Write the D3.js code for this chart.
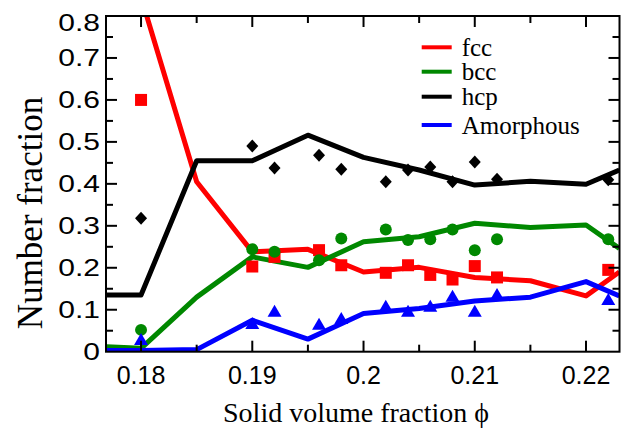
<!DOCTYPE html>
<html><head><meta charset="utf-8">
<script src="https://cdn.jsdelivr.net/npm/d3@7"></script>
<style>body{margin:0;background:#fff}svg{display:block}</style>
</head><body>
<script>
// ---- data ----
const phiLine   = [0.1769, 0.18, 0.185, 0.19, 0.195, 0.2, 0.205, 0.21, 0.215, 0.22, 0.223];
const fccLine   = [0.845, 0.845, 0.405, 0.238, 0.244, 0.19, 0.201, 0.177, 0.169, 0.133, 0.19];
const bccLine   = [0.012, 0.008, 0.13, 0.226, 0.201, 0.262, 0.274, 0.306, 0.296, 0.302, 0.246];
const hcpLine   = [0.135, 0.135, 0.455, 0.455, 0.516, 0.463, 0.433, 0.397, 0.406, 0.399, 0.433];
const amoLine   = [0.003, 0.003, 0.005, 0.075, 0.03, 0.091, 0.103, 0.121, 0.13, 0.167, 0.133];

const phiPts = [0.18, 0.19, 0.192, 0.196, 0.198, 0.202, 0.204, 0.206, 0.208, 0.21, 0.212, 0.222];
const fccPts = [0.60, 0.203, 0.226, 0.242, 0.206, 0.188, 0.206, 0.183, 0.172, 0.204, 0.177, 0.195];
const bccPts = [0.052, 0.244, 0.238, 0.218, 0.27, 0.291, 0.266, 0.268, 0.291, 0.242, 0.268, 0.268];
const hcpPts = [0.318, 0.49, 0.438, 0.468, 0.435, 0.405, 0.433, 0.44, 0.405, 0.452, 0.411, 0.41];
const amoPts = [0.028, 0.066, 0.095, 0.064, 0.078, 0.107, 0.095, 0.107, 0.131, 0.095, 0.135, 0.123];

const seriesNames = ["fcc", "bcc", "hcp", "Amorphous"];
const seriesColors = ["#ff0000", "#008800", "#000000", "#0000ff"];
const xTicks = [0.18, 0.19, 0.2, 0.21, 0.22];
const xMinor = [0.185, 0.195, 0.205, 0.215];
const yTicks = [0, 0.1, 0.2, 0.3, 0.4, 0.5, 0.6, 0.7, 0.8];
const yMinor = [0.05, 0.15, 0.25, 0.35, 0.45, 0.55, 0.65, 0.75];
const xLabel = "Solid volume fraction \u03d5";
const yLabel = "Number fraction";

// ---- layout ----
const W = 640, H = 428;
const L = 106, T = 16, R = 619.5, B = 351.7;
const x = d3.scaleLinear().domain([0.17685, 0.22301]).range([L, R]);
const y = d3.scaleLinear().domain([0, 0.8]).range([B, T]);

const svg = d3.select("body").append("svg").attr("width", W).attr("height", H);
svg.append("defs").append("clipPath").attr("id", "clip")
  .append("rect").attr("x", L).attr("y", T).attr("width", R - L).attr("height", B - T);

const plot = svg.append("g").attr("clip-path", "url(#clip)");
const lineGen = d3.line().x(d => x(d[0])).y(d => y(d[1]));
const lines = [fccLine, bccLine, hcpLine, amoLine];
const pts = [fccPts, bccPts, hcpPts, amoPts];

function drawMarkers(i) {
  const data = phiPts.map((p, k) => [p, pts[i][k]]);
  const g = plot.append("g").attr("fill", seriesColors[i]);
  if (i === 0) {
    g.selectAll("rect").data(data).join("rect")
      .attr("x", d => x(d[0]) - 6).attr("y", d => y(d[1]) - 6).attr("width", 12).attr("height", 12);
  } else if (i === 1) {
    g.selectAll("circle").data(data).join("circle")
      .attr("cx", d => x(d[0])).attr("cy", d => y(d[1])).attr("r", 6);
  } else if (i === 2) {
    g.selectAll("path").data(data).join("path")
      .attr("d", d => { const cx = x(d[0]), cy = y(d[1]);
        return `M${cx},${cy-6.5}L${cx+6},${cy}L${cx},${cy+6.5}L${cx-6},${cy}Z`; });
  } else {
    g.selectAll("path").data(data).join("path")
      .attr("d", d => { const cx = x(d[0]), cy = y(d[1]);
        return `M${cx},${cy-7}L${cx+7},${cy+5}L${cx-7},${cy+5}Z`; });
  }
}

lines.forEach((ln, i) => {
  plot.append("path").datum(phiLine.map((p, k) => [p, ln[k]]))
    .attr("d", lineGen).attr("fill", "none").attr("stroke", seriesColors[i])
    .attr("stroke-width", 5).attr("stroke-linejoin", "round");
});
[0, 1, 2, 3].forEach(drawMarkers);

// ---- axes (ticks inward on all sides) ----
const axG = svg.append("g").attr("stroke", "#000").attr("stroke-width", 2);
const major = 11, minor = 7;
function ticksX(vals, len) {
  vals.forEach(v => {
    axG.append("line").attr("x1", x(v)).attr("x2", x(v)).attr("y1", B).attr("y2", B - len);
    axG.append("line").attr("x1", x(v)).attr("x2", x(v)).attr("y1", T).attr("y2", T + len);
  });
}
function ticksY(vals, len) {
  vals.forEach(v => {
    axG.append("line").attr("y1", y(v)).attr("y2", y(v)).attr("x1", L).attr("x2", L + len);
    axG.append("line").attr("y1", y(v)).attr("y2", y(v)).attr("x1", R).attr("x2", R - len);
  });
}
ticksX(xTicks, major); ticksX(xMinor, minor);
ticksY(yTicks.slice(1, -1), major); ticksY(yMinor, minor);
axG.append("rect").attr("x", L).attr("y", T).attr("width", R - L).attr("height", B - T).attr("fill", "none");

// tick labels
const fmt = d3.format("");
svg.append("g").selectAll("text").data(xTicks).join("text")
  .attr("x", d => x(d)).attr("y", 384).attr("text-anchor", "middle")
  .attr("font-family", "Liberation Sans, Arial, sans-serif").attr("font-size", 25)
  .text(d => fmt(d));
svg.append("g").selectAll("text").data(yTicks).join("text")
  .attr("transform", d => `translate(100,${Math.max(y(d), 22) + 8.5}) scale(1.25,1)`)
  .attr("text-anchor", "end")
  .attr("font-family", "Liberation Sans, Arial, sans-serif").attr("font-size", 24)
  .text(d => fmt(d));

// axis labels
svg.append("text").attr("x", 356).attr("y", 422).attr("text-anchor", "middle")
  .attr("font-family", "Liberation Serif, Times New Roman, serif").attr("font-size", 28)
  .text(xLabel);
svg.append("text").attr("transform", "translate(42,213) rotate(-90)").attr("text-anchor", "middle")
  .attr("font-family", "Liberation Serif, Times New Roman, serif").attr("font-size", 35)
  .text(yLabel);

// legend
const legY = [47.3, 71.7, 96.7, 125];
const leg = svg.append("g");
seriesNames.forEach((n, i) => {
  leg.append("line").attr("x1", 421.7).attr("x2", 451.7).attr("y1", legY[i]).attr("y2", legY[i])
    .attr("stroke", seriesColors[i]).attr("stroke-width", 4);
  leg.append("text").attr("x", 461.7).attr("y", legY[i] + 8.5)
    .attr("font-family", "Liberation Serif, Times New Roman, serif").attr("font-size", 25)
    .text(n);
});
</script>
</body></html>
